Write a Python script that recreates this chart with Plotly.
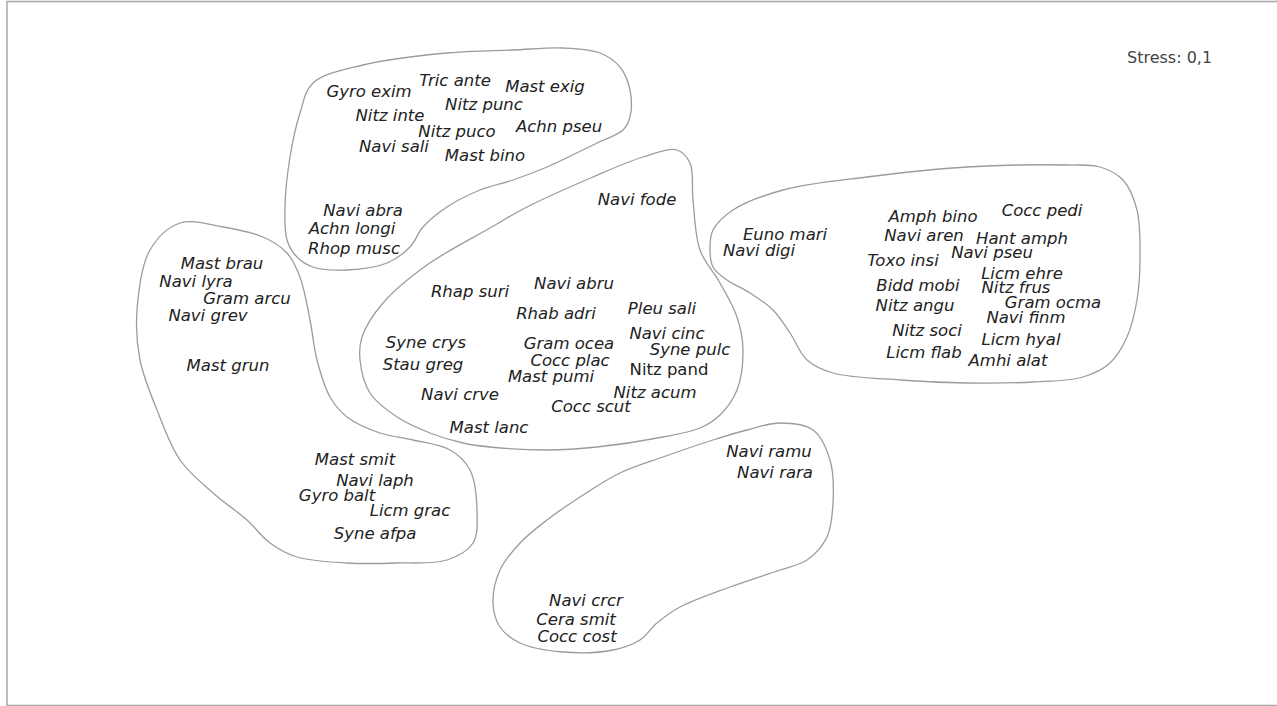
import plotly.graph_objects as go

# ---- species labels (NMDS ordination positions, plot units) ----
group_a_labels = ["Gyro exim", "Tric ante", "Mast exig", "Nitz punc", "Nitz inte", "Nitz puco",
                  "Achn pseu", "Navi sali", "Mast bino", "Navi abra", "Achn longi", "Rhop musc"]
group_a_x = [369, 455, 545, 484, 390, 457, 559, 394, 485, 363, 352, 354]
group_a_y = [93, 82, 88, 106, 117, 133, 128, 148, 157, 212, 230, 250]

group_b_labels = ["Mast brau", "Navi lyra", "Gram arcu", "Navi grev", "Mast grun",
                  "Mast smit", "Navi laph", "Gyro balt", "Licm grac", "Syne afpa"]
group_b_x = [222, 196, 247, 208, 228, 355, 375, 337, 410, 375]
group_b_y = [265, 283, 300, 317, 367, 461, 482, 497, 512, 535]

group_c_labels = ["Navi fode", "Rhap suri", "Navi abru", "Rhab adri", "Pleu sali", "Navi cinc",
                  "Syne crys", "Gram ocea", "Syne pulc", "Stau greg", "Cocc plac",
                  "Mast pumi", "Navi crve", "Nitz acum", "Cocc scut", "Mast lanc"]
group_c_x = [637, 470, 574, 556, 662, 667, 426, 569, 690, 423, 570, 551, 460, 655, 591, 489]
group_c_y = [201, 293, 285, 315, 310, 335, 344, 345, 351, 366, 362, 378, 396, 394, 408, 429]

group_c_upright_labels = ["Nitz pand"]
group_c_upright_x = [669]
group_c_upright_y = [371]

group_d_labels = ["Euno mari", "Navi digi", "Amph bino", "Cocc pedi", "Navi aren", "Hant amph",
                  "Navi pseu", "Toxo insi", "Licm ehre", "Bidd mobi", "Nitz frus", "Gram ocma",
                  "Nitz angu", "Navi finm", "Nitz soci", "Licm hyal", "Licm flab", "Amhi alat"]
group_d_x = [785, 759, 933, 1042, 924, 1022, 992, 903, 1022, 918, 1016, 1053,
             915, 1026, 927, 1021, 924, 1008]
group_d_y = [236, 252, 218, 212, 237, 240, 254, 262, 275, 287, 289, 304,
             307, 319, 332, 341, 354, 362]

group_e_labels = ["Navi ramu", "Navi rara", "Navi crcr", "Cera smit", "Cocc cost"]
group_e_x = [769, 775, 586, 576, 577]
group_e_y = [453, 474, 602, 621, 638]

# ---- hand-drawn group outlines ----
hull_a_x = [313, 363, 447, 513, 563, 600, 620, 630, 630, 623, 597, 547, 513, 480, 447, 423,
            410, 387, 347, 313, 297, 287, 285, 290, 300, 313]
hull_a_y = [83, 65, 53, 50, 48, 53, 67, 90, 117, 130, 143, 167, 180, 190, 207, 227,
            247, 263, 270, 267, 257, 240, 207, 157, 113, 83]

hull_b_x = [180, 150, 137, 140, 157, 180, 213, 247, 270, 297, 347, 397, 447, 473, 477, 470,
            450, 413, 380, 347, 330, 317, 310, 300, 287, 263, 223, 180]
hull_b_y = [223, 250, 310, 360, 410, 460, 493, 520, 543, 557, 563, 563, 560, 543, 510, 470,
            450, 440, 433, 417, 397, 360, 320, 277, 253, 237, 227, 223]

hull_c_x = [677, 690, 693, 700, 720, 737, 743, 737, 720, 700, 663, 597, 547, 490, 463, 430,
            397, 370, 360, 362, 383, 427, 490, 527, 593, 643, 677]
hull_c_y = [150, 163, 200, 250, 283, 317, 350, 390, 415, 428, 437, 447, 450, 447, 443, 433,
            417, 393, 360, 337, 303, 265, 228, 207, 177, 157, 150]

hull_d_x = [713, 733, 783, 867, 967, 1067, 1100, 1123, 1137, 1140, 1137, 1127, 1110, 1083,
            1033, 967, 900, 833, 807, 790, 773, 750, 727, 713, 710, 713]
hull_d_y = [230, 210, 190, 177, 167, 165, 167, 180, 210, 260, 300, 337, 363, 377,
            382, 383, 380, 373, 360, 333, 310, 293, 280, 267, 247, 230]

hull_e_x = [780, 813, 830, 833, 827, 807, 780, 730, 680, 657, 640, 613, 563, 520, 500, 493,
            500, 520, 547, 580, 620, 663, 713, 747, 780]
hull_e_y = [423, 430, 460, 503, 537, 560, 570, 587, 607, 623, 640, 650, 652, 643, 627, 603,
            570, 543, 520, 497, 473, 457, 440, 430, 423]

stress_text = "Stress: 0,1"

FONT = "DejaVu Sans"
TEXT_COLOR = "#222222"
LINE_COLOR = "#9c9c9c"

fig = go.Figure()

for hx, hy in [(hull_a_x, hull_a_y), (hull_b_x, hull_b_y), (hull_c_x, hull_c_y),
               (hull_d_x, hull_d_y), (hull_e_x, hull_e_y)]:
    fig.add_trace(go.Scatter(x=hx, y=hy, mode="lines",
                             line=dict(color=LINE_COLOR, width=1.3, shape="spline", smoothing=1.0),
                             hoverinfo="skip", showlegend=False))

for labs, xs, ys, style in [
    (group_a_labels, group_a_x, group_a_y, "italic"),
    (group_b_labels, group_b_x, group_b_y, "italic"),
    (group_c_labels, group_c_x, group_c_y, "italic"),
    (group_c_upright_labels, group_c_upright_x, group_c_upright_y, "normal"),
    (group_d_labels, group_d_x, group_d_y, "italic"),
    (group_e_labels, group_e_x, group_e_y, "italic"),
]:
    fig.add_trace(go.Scatter(x=xs, y=ys, mode="text", text=labs, textposition="middle center",
                             textfont=dict(family=FONT, size=16.5, color=TEXT_COLOR, style=style),
                             hoverinfo="text", showlegend=False))

fig.add_annotation(x=1169, y=57, xref="x", yref="y", text=stress_text, showarrow=False,
                   font=dict(family=FONT, size=16, color="#444444"))

fig.add_shape(type="rect", xref="paper", yref="paper", x0=7 / 1277, x1=1.01, y0=0.5 / 706,
              y1=1 - 1.5 / 706, line=dict(color="#a8a8a8", width=1.5))

fig.update_xaxes(range=[0, 1277], visible=False, fixedrange=True)
fig.update_yaxes(range=[706, 0], visible=False, fixedrange=True)
fig.update_layout(width=1277, height=706, margin=dict(l=0, r=0, t=0, b=0),
                  plot_bgcolor="white", paper_bgcolor="white")

fig.write_html("out.html", config={"displayModeBar": False},
               post_script="document.body.style.margin='0px';document.body.style.overflow='hidden';")
